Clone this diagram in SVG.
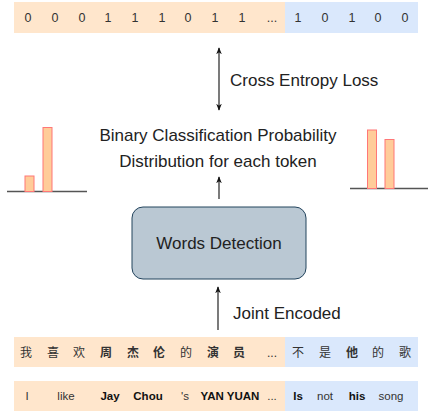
<svg xmlns="http://www.w3.org/2000/svg" width="428" height="412" viewBox="0 0 428 412">
<defs>
<marker id="ah" viewBox="0 0 10 10" refX="9" refY="5" markerWidth="7" markerHeight="7" orient="auto-start-reverse" markerUnits="userSpaceOnUse">
<path d="M0,1 L10,5 L0,9 L3,5 Z" fill="#111"/>
</marker>
</defs>
<style>
.or{fill:#ffe6cc}
.bl{fill:#dae8fc}
.t{font-family:"Liberation Sans",Arial,sans-serif;fill:#222;text-anchor:middle;dominant-baseline:central}
.lab{font-size:17px}
.sm{font-size:11.5px;fill:#333}
.dg{font-size:12.5px;fill:#333}
.b{font-weight:bold;fill:#111}
.cjk{font-family:"Liberation Sans","Noto Sans CJK SC",sans-serif;font-size:12px;fill:#333;text-anchor:middle;dominant-baseline:central}
.bar{fill:#ffcc99;stroke:#ff7777;stroke-width:1}
.base{stroke:#555;stroke-width:1.3}
.conn{stroke:#222;stroke-width:1.2;fill:none}
</style>
<g id="labels-top">
<rect class="or" x="14" y="2" width="271" height="31"/>
<rect class="bl" x="285" y="2" width="133" height="31"/>
<g class="t dg">
<text x="28" y="17.5">0</text><text x="55" y="17.5">0</text><text x="82" y="17.5">0</text><text x="108" y="17.5">1</text><text x="135" y="17.5">1</text><text x="162" y="17.5">1</text><text x="188" y="17.5">0</text><text x="215" y="17.5">1</text><text x="242" y="17.5">1</text><text x="272" y="17.5">...</text>
<text x="298" y="17.5">1</text><text x="325" y="17.5">0</text><text x="352" y="17.5">1</text><text x="378" y="17.5">0</text><text x="405" y="17.5">0</text>
</g>
</g>
<g id="hist-left">
<line class="base" x1="7" y1="191.5" x2="87" y2="191.5"/>
<rect class="bar" x="25" y="176" width="9" height="15.5"/>
<rect class="bar" x="43" y="127.5" width="9" height="64"/>
</g>
<g id="hist-right">
<line class="base" x1="350" y1="188.5" x2="428" y2="188.5"/>
<rect class="bar" x="367.5" y="130" width="9" height="58.5"/>
<rect class="bar" x="385" y="139.5" width="9" height="49"/>
</g>
<g id="prob-text">
<text class="t lab" x="218" y="135">Binary Classification Probability</text>
<text class="t lab" x="218" y="161">Distribution for each token</text>
</g>
<g id="words-detection">
<rect x="132" y="207" width="174" height="72" rx="11" ry="11" fill="#bac8d3" stroke="#23445d" stroke-width="1"/>
<text class="t lab" x="219" y="243">Words Detection</text>
</g>
<g id="input-zh">
<rect class="or" x="14" y="337" width="271" height="30"/>
<rect class="bl" x="285" y="337" width="133" height="30"/>
<text class="cjk" x="26" y="352.5">我</text><text class="cjk" x="53" y="352.5">喜</text><text class="cjk" x="79" y="352.5">欢</text><text class="cjk b" x="106" y="352.5">周</text><text class="cjk b" x="133" y="352.5">杰</text><text class="cjk b" x="159" y="352.5">伦</text><text class="cjk" x="186" y="352.5">的</text><text class="cjk b" x="213" y="352.5">演</text><text class="cjk b" x="239" y="352.5">员</text><text class="cjk" x="272" y="352.5">...</text>
<text class="cjk" x="298" y="352.5">不</text><text class="cjk" x="325" y="352.5">是</text><text class="cjk b" x="352" y="352.5">他</text><text class="cjk" x="378" y="352.5">的</text><text class="cjk" x="405" y="352.5">歌</text>
</g>
<g id="input-en">
<rect class="or" x="14" y="381" width="271" height="30"/>
<rect class="bl" x="285" y="381" width="133" height="30"/>
<g class="t sm">
<text x="27" y="396">I</text><text x="66" y="396">like</text><text class="b" x="110" y="396">Jay</text><text class="b" x="148" y="396">Chou</text><text x="185" y="396">'s</text><text class="b" x="230" y="396">YAN YUAN</text><text x="272" y="396">...</text>
<text class="b" x="298" y="396">Is</text><text x="325" y="396">not</text><text class="b" x="357" y="396">his</text><text x="391" y="396">song</text>
</g>
</g>
<g id="connectors">
<line class="conn" x1="219" y1="48" x2="219" y2="110" marker-start="url(#ah)" marker-end="url(#ah)"/>
<line class="conn" x1="219" y1="199" x2="219" y2="177" marker-end="url(#ah)"/>
<line class="conn" x1="218" y1="330" x2="218" y2="287" marker-end="url(#ah)"/>
<text class="t lab" x="230" y="80" style="text-anchor:start">Cross Entropy Loss</text>
<text class="t lab" x="233" y="313" style="text-anchor:start">Joint Encoded</text>
</g>
</svg>
